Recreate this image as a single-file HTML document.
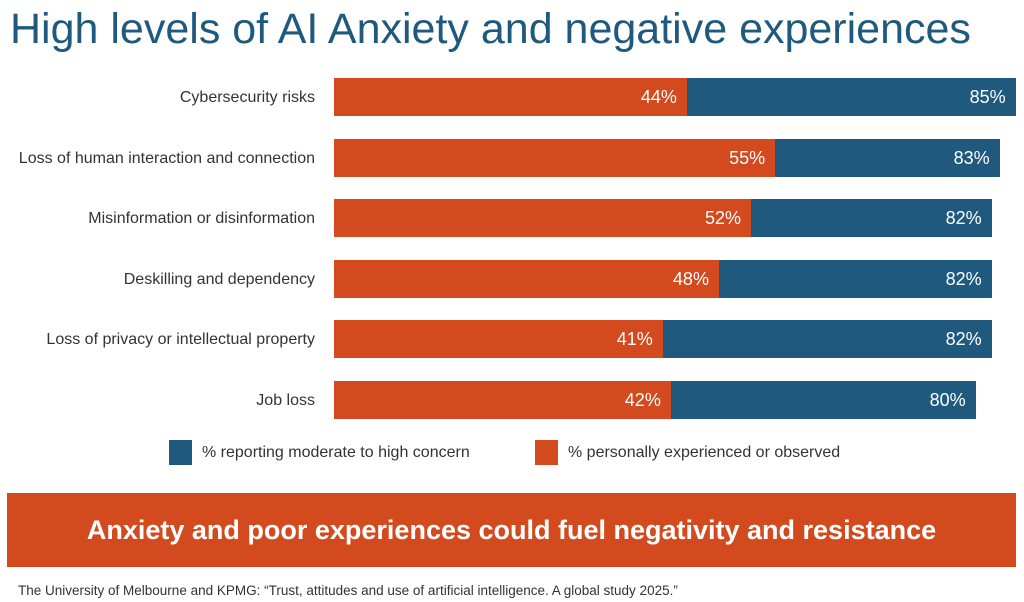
<!DOCTYPE html>
<html><head><meta charset="utf-8"><style>
body{margin:0;width:1024px;height:602px;background:#fff;font-family:"Liberation Sans",sans-serif;position:relative;overflow:hidden}
.a{position:absolute}
.t{left:10px;top:5px;font-size:43px;color:#1f5a7e;white-space:nowrap}
.lab{right:709px;font-size:16px;color:#333;white-space:nowrap;text-align:right}
.bar{height:38px}
.o{background:#d34a1e}.b{background:#1f5a7e}
.v{color:#fff;font-size:18px;text-align:right;line-height:38px;padding-right:10px;box-sizing:border-box}
</style></head><body>
<div class="a t">High levels of AI Anxiety and negative experiences</div>
<div id="c"></div>
<div class="a b" style="left:169px;top:440px;width:23px;height:25px"></div>
<div class="a" style="left:202px;top:444px;font-size:16px;color:#333">% reporting moderate to high concern</div>
<div class="a o" style="left:535px;top:440px;width:23px;height:25px"></div>
<div class="a" style="left:568px;top:444px;font-size:16px;color:#333">% personally experienced or observed</div>
<div class="a o" style="left:7px;top:493px;width:1009px;height:74px;color:#fff;font-weight:bold;font-size:27px;text-align:center;line-height:74px">Anxiety and poor experiences could fuel negativity and resistance</div>
<div class="a" style="left:18px;top:583px;font-size:13.5px;color:#333">The University of Melbourne and KPMG: “Trust, attitudes and use of artificial intelligence. A global study 2025.”</div>
<script>
var d=[["Cybersecurity risks",44,85],["Loss of human interaction and connection",55,83],["Misinformation or disinformation",52,82],["Deskilling and dependency",48,82],["Loss of privacy or intellectual property",41,82],["Job loss",42,80]];
var h="",s=8.02;
d.forEach(function(r,i){var y=78+i*60.6;
h+='<div class="a lab" style="top:'+(y+11)+'px">'+r[0]+'</div>';
h+='<div class="a bar b v" style="left:334px;top:'+y+'px;width:'+(r[2]*s)+'px">'+r[2]+'%</div>';
h+='<div class="a bar o v" style="left:334px;top:'+y+'px;width:'+(r[1]*s)+'px">'+r[1]+'%</div>';});
document.getElementById("c").innerHTML=h;
</script>
</body></html>
